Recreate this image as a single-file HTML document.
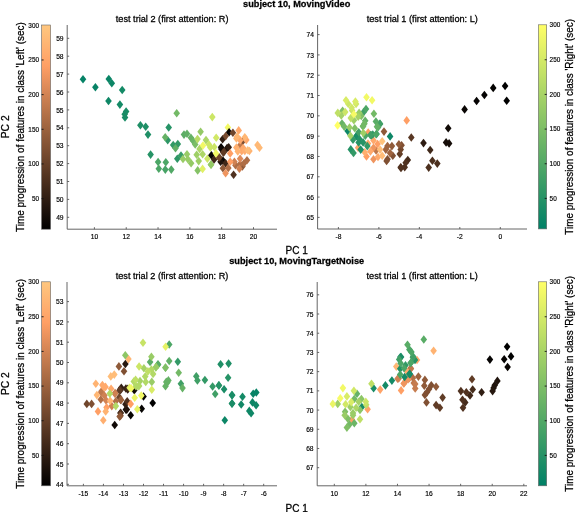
<!DOCTYPE html><html><head><meta charset="utf-8"><style>html,body{margin:0;padding:0;background:#fff;overflow:hidden}svg{display:block;will-change:transform} text{stroke:#000;stroke-width:0.28px} text.s{stroke-width:0.16px}</style></head><body><svg width="575" height="512" viewBox="0 0 575 512" font-family='"Liberation Sans", sans-serif' fill="#000">
<rect width="575" height="512" fill="#fff"/>
<text x="296.7" y="6.6" font-size="9.8" textLength="107.2" lengthAdjust="spacingAndGlyphs" font-weight="bold" text-anchor="middle">subject 10, MovingVideo</text>
<text x="296.7" y="263.5" font-size="9.8" textLength="135" lengthAdjust="spacingAndGlyphs" font-weight="bold" text-anchor="middle">subject 10, MovingTargetNoise</text>
<line x1="67.2" y1="25.0" x2="67.2" y2="229.2" stroke="#555" stroke-width="0.9"/>
<line x1="67.2" y1="229.2" x2="277.0" y2="229.2" stroke="#555" stroke-width="0.9"/>
<line x1="94.40" y1="229.2" x2="94.40" y2="227.20" stroke="#555" stroke-width="0.9"/>
<text x="94.40" y="239.10" font-size="6.7" class="s" text-anchor="middle">10</text>
<line x1="126.22" y1="229.2" x2="126.22" y2="227.20" stroke="#555" stroke-width="0.9"/>
<text x="126.22" y="239.10" font-size="6.7" class="s" text-anchor="middle">12</text>
<line x1="158.04" y1="229.2" x2="158.04" y2="227.20" stroke="#555" stroke-width="0.9"/>
<text x="158.04" y="239.10" font-size="6.7" class="s" text-anchor="middle">14</text>
<line x1="189.86" y1="229.2" x2="189.86" y2="227.20" stroke="#555" stroke-width="0.9"/>
<text x="189.86" y="239.10" font-size="6.7" class="s" text-anchor="middle">16</text>
<line x1="221.68" y1="229.2" x2="221.68" y2="227.20" stroke="#555" stroke-width="0.9"/>
<text x="221.68" y="239.10" font-size="6.7" class="s" text-anchor="middle">18</text>
<line x1="253.50" y1="229.2" x2="253.50" y2="227.20" stroke="#555" stroke-width="0.9"/>
<text x="253.50" y="239.10" font-size="6.7" class="s" text-anchor="middle">20</text>
<line x1="67.2" y1="217.30" x2="69.20" y2="217.30" stroke="#555" stroke-width="0.9"/>
<text x="63.60" y="219.90" font-size="6.7" class="s" text-anchor="end">49</text>
<line x1="67.2" y1="199.40" x2="69.20" y2="199.40" stroke="#555" stroke-width="0.9"/>
<text x="63.60" y="202.00" font-size="6.7" class="s" text-anchor="end">50</text>
<line x1="67.2" y1="181.50" x2="69.20" y2="181.50" stroke="#555" stroke-width="0.9"/>
<text x="63.60" y="184.10" font-size="6.7" class="s" text-anchor="end">51</text>
<line x1="67.2" y1="163.60" x2="69.20" y2="163.60" stroke="#555" stroke-width="0.9"/>
<text x="63.60" y="166.20" font-size="6.7" class="s" text-anchor="end">52</text>
<line x1="67.2" y1="145.70" x2="69.20" y2="145.70" stroke="#555" stroke-width="0.9"/>
<text x="63.60" y="148.30" font-size="6.7" class="s" text-anchor="end">53</text>
<line x1="67.2" y1="127.80" x2="69.20" y2="127.80" stroke="#555" stroke-width="0.9"/>
<text x="63.60" y="130.40" font-size="6.7" class="s" text-anchor="end">54</text>
<line x1="67.2" y1="109.90" x2="69.20" y2="109.90" stroke="#555" stroke-width="0.9"/>
<text x="63.60" y="112.50" font-size="6.7" class="s" text-anchor="end">55</text>
<line x1="67.2" y1="92.00" x2="69.20" y2="92.00" stroke="#555" stroke-width="0.9"/>
<text x="63.60" y="94.60" font-size="6.7" class="s" text-anchor="end">56</text>
<line x1="67.2" y1="74.10" x2="69.20" y2="74.10" stroke="#555" stroke-width="0.9"/>
<text x="63.60" y="76.70" font-size="6.7" class="s" text-anchor="end">57</text>
<line x1="67.2" y1="56.20" x2="69.20" y2="56.20" stroke="#555" stroke-width="0.9"/>
<text x="63.60" y="58.80" font-size="6.7" class="s" text-anchor="end">58</text>
<line x1="67.2" y1="38.30" x2="69.20" y2="38.30" stroke="#555" stroke-width="0.9"/>
<text x="63.60" y="40.90" font-size="6.7" class="s" text-anchor="end">59</text>
<text x="172.10" y="22.20" font-size="9.9" textLength="112.7" lengthAdjust="spacingAndGlyphs" text-anchor="middle">test trial 2 (first attention: R)</text>
<line x1="317.6" y1="25.0" x2="317.6" y2="229.0" stroke="#555" stroke-width="0.9"/>
<line x1="317.6" y1="229.0" x2="527.0" y2="229.0" stroke="#555" stroke-width="0.9"/>
<line x1="338.40" y1="229.0" x2="338.40" y2="227.00" stroke="#555" stroke-width="0.9"/>
<text x="338.40" y="238.90" font-size="6.7" class="s" text-anchor="middle">-8</text>
<line x1="378.88" y1="229.0" x2="378.88" y2="227.00" stroke="#555" stroke-width="0.9"/>
<text x="378.88" y="238.90" font-size="6.7" class="s" text-anchor="middle">-6</text>
<line x1="419.35" y1="229.0" x2="419.35" y2="227.00" stroke="#555" stroke-width="0.9"/>
<text x="419.35" y="238.90" font-size="6.7" class="s" text-anchor="middle">-4</text>
<line x1="459.82" y1="229.0" x2="459.82" y2="227.00" stroke="#555" stroke-width="0.9"/>
<text x="459.82" y="238.90" font-size="6.7" class="s" text-anchor="middle">-2</text>
<line x1="500.30" y1="229.0" x2="500.30" y2="227.00" stroke="#555" stroke-width="0.9"/>
<text x="500.30" y="238.90" font-size="6.7" class="s" text-anchor="middle">0</text>
<line x1="317.6" y1="217.40" x2="319.60" y2="217.40" stroke="#555" stroke-width="0.9"/>
<text x="314.00" y="220.00" font-size="6.7" class="s" text-anchor="end">65</text>
<line x1="317.6" y1="197.09" x2="319.60" y2="197.09" stroke="#555" stroke-width="0.9"/>
<text x="314.00" y="199.69" font-size="6.7" class="s" text-anchor="end">66</text>
<line x1="317.6" y1="176.78" x2="319.60" y2="176.78" stroke="#555" stroke-width="0.9"/>
<text x="314.00" y="179.38" font-size="6.7" class="s" text-anchor="end">67</text>
<line x1="317.6" y1="156.47" x2="319.60" y2="156.47" stroke="#555" stroke-width="0.9"/>
<text x="314.00" y="159.07" font-size="6.7" class="s" text-anchor="end">68</text>
<line x1="317.6" y1="136.16" x2="319.60" y2="136.16" stroke="#555" stroke-width="0.9"/>
<text x="314.00" y="138.76" font-size="6.7" class="s" text-anchor="end">69</text>
<line x1="317.6" y1="115.84" x2="319.60" y2="115.84" stroke="#555" stroke-width="0.9"/>
<text x="314.00" y="118.44" font-size="6.7" class="s" text-anchor="end">70</text>
<line x1="317.6" y1="95.53" x2="319.60" y2="95.53" stroke="#555" stroke-width="0.9"/>
<text x="314.00" y="98.13" font-size="6.7" class="s" text-anchor="end">71</text>
<line x1="317.6" y1="75.22" x2="319.60" y2="75.22" stroke="#555" stroke-width="0.9"/>
<text x="314.00" y="77.82" font-size="6.7" class="s" text-anchor="end">72</text>
<line x1="317.6" y1="54.91" x2="319.60" y2="54.91" stroke="#555" stroke-width="0.9"/>
<text x="314.00" y="57.51" font-size="6.7" class="s" text-anchor="end">73</text>
<line x1="317.6" y1="34.60" x2="319.60" y2="34.60" stroke="#555" stroke-width="0.9"/>
<text x="314.00" y="37.20" font-size="6.7" class="s" text-anchor="end">74</text>
<text x="422.30" y="22.20" font-size="9.9" textLength="111.2" lengthAdjust="spacingAndGlyphs" text-anchor="middle">test trial 1 (first attention: L)</text>
<line x1="67.0" y1="282.0" x2="67.0" y2="485.8" stroke="#555" stroke-width="0.9"/>
<line x1="67.0" y1="485.8" x2="277.0" y2="485.8" stroke="#555" stroke-width="0.9"/>
<line x1="83.40" y1="485.8" x2="83.40" y2="483.80" stroke="#555" stroke-width="0.9"/>
<text x="83.40" y="495.70" font-size="6.7" class="s" text-anchor="middle">-15</text>
<line x1="103.43" y1="485.8" x2="103.43" y2="483.80" stroke="#555" stroke-width="0.9"/>
<text x="103.43" y="495.70" font-size="6.7" class="s" text-anchor="middle">-14</text>
<line x1="123.47" y1="485.8" x2="123.47" y2="483.80" stroke="#555" stroke-width="0.9"/>
<text x="123.47" y="495.70" font-size="6.7" class="s" text-anchor="middle">-13</text>
<line x1="143.50" y1="485.8" x2="143.50" y2="483.80" stroke="#555" stroke-width="0.9"/>
<text x="143.50" y="495.70" font-size="6.7" class="s" text-anchor="middle">-12</text>
<line x1="163.53" y1="485.8" x2="163.53" y2="483.80" stroke="#555" stroke-width="0.9"/>
<text x="163.53" y="495.70" font-size="6.7" class="s" text-anchor="middle">-11</text>
<line x1="183.57" y1="485.8" x2="183.57" y2="483.80" stroke="#555" stroke-width="0.9"/>
<text x="183.57" y="495.70" font-size="6.7" class="s" text-anchor="middle">-10</text>
<line x1="203.60" y1="485.8" x2="203.60" y2="483.80" stroke="#555" stroke-width="0.9"/>
<text x="203.60" y="495.70" font-size="6.7" class="s" text-anchor="middle">-9</text>
<line x1="223.63" y1="485.8" x2="223.63" y2="483.80" stroke="#555" stroke-width="0.9"/>
<text x="223.63" y="495.70" font-size="6.7" class="s" text-anchor="middle">-8</text>
<line x1="243.67" y1="485.8" x2="243.67" y2="483.80" stroke="#555" stroke-width="0.9"/>
<text x="243.67" y="495.70" font-size="6.7" class="s" text-anchor="middle">-7</text>
<line x1="263.70" y1="485.8" x2="263.70" y2="483.80" stroke="#555" stroke-width="0.9"/>
<text x="263.70" y="495.70" font-size="6.7" class="s" text-anchor="middle">-6</text>
<line x1="67.0" y1="484.30" x2="69.00" y2="484.30" stroke="#555" stroke-width="0.9"/>
<text x="63.40" y="486.90" font-size="6.7" class="s" text-anchor="end">44</text>
<line x1="67.0" y1="464.00" x2="69.00" y2="464.00" stroke="#555" stroke-width="0.9"/>
<text x="63.40" y="466.60" font-size="6.7" class="s" text-anchor="end">45</text>
<line x1="67.0" y1="443.70" x2="69.00" y2="443.70" stroke="#555" stroke-width="0.9"/>
<text x="63.40" y="446.30" font-size="6.7" class="s" text-anchor="end">46</text>
<line x1="67.0" y1="423.40" x2="69.00" y2="423.40" stroke="#555" stroke-width="0.9"/>
<text x="63.40" y="426.00" font-size="6.7" class="s" text-anchor="end">47</text>
<line x1="67.0" y1="403.10" x2="69.00" y2="403.10" stroke="#555" stroke-width="0.9"/>
<text x="63.40" y="405.70" font-size="6.7" class="s" text-anchor="end">48</text>
<line x1="67.0" y1="382.80" x2="69.00" y2="382.80" stroke="#555" stroke-width="0.9"/>
<text x="63.40" y="385.40" font-size="6.7" class="s" text-anchor="end">49</text>
<line x1="67.0" y1="362.50" x2="69.00" y2="362.50" stroke="#555" stroke-width="0.9"/>
<text x="63.40" y="365.10" font-size="6.7" class="s" text-anchor="end">50</text>
<line x1="67.0" y1="342.20" x2="69.00" y2="342.20" stroke="#555" stroke-width="0.9"/>
<text x="63.40" y="344.80" font-size="6.7" class="s" text-anchor="end">51</text>
<line x1="67.0" y1="321.90" x2="69.00" y2="321.90" stroke="#555" stroke-width="0.9"/>
<text x="63.40" y="324.50" font-size="6.7" class="s" text-anchor="end">52</text>
<line x1="67.0" y1="301.60" x2="69.00" y2="301.60" stroke="#555" stroke-width="0.9"/>
<text x="63.40" y="304.20" font-size="6.7" class="s" text-anchor="end">53</text>
<text x="172.00" y="279.20" font-size="9.9" textLength="112.7" lengthAdjust="spacingAndGlyphs" text-anchor="middle">test trial 2 (first attention: R)</text>
<line x1="317.2" y1="282.0" x2="317.2" y2="485.8" stroke="#555" stroke-width="0.9"/>
<line x1="317.2" y1="485.8" x2="527.0" y2="485.8" stroke="#555" stroke-width="0.9"/>
<line x1="334.30" y1="485.8" x2="334.30" y2="483.80" stroke="#555" stroke-width="0.9"/>
<text x="334.30" y="495.70" font-size="6.7" class="s" text-anchor="middle">10</text>
<line x1="365.88" y1="485.8" x2="365.88" y2="483.80" stroke="#555" stroke-width="0.9"/>
<text x="365.88" y="495.70" font-size="6.7" class="s" text-anchor="middle">12</text>
<line x1="397.47" y1="485.8" x2="397.47" y2="483.80" stroke="#555" stroke-width="0.9"/>
<text x="397.47" y="495.70" font-size="6.7" class="s" text-anchor="middle">14</text>
<line x1="429.05" y1="485.8" x2="429.05" y2="483.80" stroke="#555" stroke-width="0.9"/>
<text x="429.05" y="495.70" font-size="6.7" class="s" text-anchor="middle">16</text>
<line x1="460.63" y1="485.8" x2="460.63" y2="483.80" stroke="#555" stroke-width="0.9"/>
<text x="460.63" y="495.70" font-size="6.7" class="s" text-anchor="middle">18</text>
<line x1="492.22" y1="485.8" x2="492.22" y2="483.80" stroke="#555" stroke-width="0.9"/>
<text x="492.22" y="495.70" font-size="6.7" class="s" text-anchor="middle">20</text>
<line x1="523.80" y1="485.8" x2="523.80" y2="483.80" stroke="#555" stroke-width="0.9"/>
<text x="523.80" y="495.70" font-size="6.7" class="s" text-anchor="middle">22</text>
<line x1="317.2" y1="467.70" x2="319.20" y2="467.70" stroke="#555" stroke-width="0.9"/>
<text x="313.60" y="470.30" font-size="6.7" class="s" text-anchor="end">67</text>
<line x1="317.2" y1="448.49" x2="319.20" y2="448.49" stroke="#555" stroke-width="0.9"/>
<text x="313.60" y="451.09" font-size="6.7" class="s" text-anchor="end">68</text>
<line x1="317.2" y1="429.28" x2="319.20" y2="429.28" stroke="#555" stroke-width="0.9"/>
<text x="313.60" y="431.88" font-size="6.7" class="s" text-anchor="end">69</text>
<line x1="317.2" y1="410.07" x2="319.20" y2="410.07" stroke="#555" stroke-width="0.9"/>
<text x="313.60" y="412.67" font-size="6.7" class="s" text-anchor="end">70</text>
<line x1="317.2" y1="390.86" x2="319.20" y2="390.86" stroke="#555" stroke-width="0.9"/>
<text x="313.60" y="393.46" font-size="6.7" class="s" text-anchor="end">71</text>
<line x1="317.2" y1="371.64" x2="319.20" y2="371.64" stroke="#555" stroke-width="0.9"/>
<text x="313.60" y="374.24" font-size="6.7" class="s" text-anchor="end">72</text>
<line x1="317.2" y1="352.43" x2="319.20" y2="352.43" stroke="#555" stroke-width="0.9"/>
<text x="313.60" y="355.03" font-size="6.7" class="s" text-anchor="end">73</text>
<line x1="317.2" y1="333.22" x2="319.20" y2="333.22" stroke="#555" stroke-width="0.9"/>
<text x="313.60" y="335.82" font-size="6.7" class="s" text-anchor="end">74</text>
<line x1="317.2" y1="314.01" x2="319.20" y2="314.01" stroke="#555" stroke-width="0.9"/>
<text x="313.60" y="316.61" font-size="6.7" class="s" text-anchor="end">75</text>
<line x1="317.2" y1="294.80" x2="319.20" y2="294.80" stroke="#555" stroke-width="0.9"/>
<text x="313.60" y="297.40" font-size="6.7" class="s" text-anchor="end">76</text>
<text x="422.10" y="279.20" font-size="9.9" textLength="111.2" lengthAdjust="spacingAndGlyphs" text-anchor="middle">test trial 1 (first attention: L)</text>
<defs><linearGradient id="gL1" x1="0" y1="0" x2="0" y2="1"><stop offset="0.00" stop-color="#ffc77f"/><stop offset="0.10" stop-color="#ffb372"/><stop offset="0.20" stop-color="#ff9f65"/><stop offset="0.30" stop-color="#df8b59"/><stop offset="0.40" stop-color="#bf784c"/><stop offset="0.50" stop-color="#9f643f"/><stop offset="0.60" stop-color="#805033"/><stop offset="0.70" stop-color="#603c26"/><stop offset="0.80" stop-color="#402819"/><stop offset="0.90" stop-color="#20140d"/><stop offset="1.00" stop-color="#000000"/></linearGradient></defs>
<rect x="41.6" y="25.0" width="9.0" height="204.2" fill="url(#gL1)" stroke="#666" stroke-width="0.6"/>
<line x1="41.6" y1="198.60" x2="43.6" y2="198.60" stroke="#111" stroke-width="0.9"/>
<text x="39.00" y="200.95" font-size="6.4" class="s" text-anchor="end">50</text>
<line x1="41.6" y1="163.94" x2="43.6" y2="163.94" stroke="#111" stroke-width="0.9"/>
<text x="39.00" y="166.29" font-size="6.4" class="s" text-anchor="end">100</text>
<line x1="41.6" y1="129.28" x2="43.6" y2="129.28" stroke="#111" stroke-width="0.9"/>
<text x="39.00" y="131.63" font-size="6.4" class="s" text-anchor="end">150</text>
<line x1="41.6" y1="94.62" x2="43.6" y2="94.62" stroke="#111" stroke-width="0.9"/>
<text x="39.00" y="96.97" font-size="6.4" class="s" text-anchor="end">200</text>
<line x1="41.6" y1="59.96" x2="43.6" y2="59.96" stroke="#111" stroke-width="0.9"/>
<text x="39.00" y="62.31" font-size="6.4" class="s" text-anchor="end">250</text>
<text x="39.00" y="27.65" font-size="6.4" class="s" text-anchor="end">300</text>
<text transform="translate(24.0,127.10) rotate(-90)" font-size="10.8" textLength="209.7" lengthAdjust="spacingAndGlyphs" text-anchor="middle">Time progression of features in class 'Left' (sec)</text>
<defs><linearGradient id="gR1" x1="0" y1="0" x2="0" y2="1"><stop offset="0.00" stop-color="#ffff66"/><stop offset="0.10" stop-color="#e6f266"/><stop offset="0.20" stop-color="#cce666"/><stop offset="0.30" stop-color="#b2d966"/><stop offset="0.40" stop-color="#99cc66"/><stop offset="0.50" stop-color="#80bf66"/><stop offset="0.60" stop-color="#66b266"/><stop offset="0.70" stop-color="#4da666"/><stop offset="0.80" stop-color="#339966"/><stop offset="0.90" stop-color="#198c66"/><stop offset="1.00" stop-color="#008066"/></linearGradient></defs>
<rect x="538.4" y="24.8" width="8.300000000000068" height="204.1" fill="url(#gR1)" stroke="#666" stroke-width="0.6"/>
<line x1="546.7" y1="198.40" x2="544.7" y2="198.40" stroke="#111" stroke-width="0.9"/>
<text x="549.60" y="200.75" font-size="6.4" class="s" text-anchor="start">50</text>
<line x1="546.7" y1="163.74" x2="544.7" y2="163.74" stroke="#111" stroke-width="0.9"/>
<text x="549.60" y="166.09" font-size="6.4" class="s" text-anchor="start">100</text>
<line x1="546.7" y1="129.08" x2="544.7" y2="129.08" stroke="#111" stroke-width="0.9"/>
<text x="549.60" y="131.43" font-size="6.4" class="s" text-anchor="start">150</text>
<line x1="546.7" y1="94.42" x2="544.7" y2="94.42" stroke="#111" stroke-width="0.9"/>
<text x="549.60" y="96.77" font-size="6.4" class="s" text-anchor="start">200</text>
<line x1="546.7" y1="59.76" x2="544.7" y2="59.76" stroke="#111" stroke-width="0.9"/>
<text x="549.60" y="62.11" font-size="6.4" class="s" text-anchor="start">250</text>
<text x="549.60" y="27.45" font-size="6.4" class="s" text-anchor="start">300</text>
<text transform="translate(573.3,126.85) rotate(-90)" font-size="10.8" textLength="215.8" lengthAdjust="spacingAndGlyphs" text-anchor="middle">Time progression of features in class 'Right' (sec)</text>
<defs><linearGradient id="gL2" x1="0" y1="0" x2="0" y2="1"><stop offset="0.00" stop-color="#ffc77f"/><stop offset="0.10" stop-color="#ffb372"/><stop offset="0.20" stop-color="#ff9f65"/><stop offset="0.30" stop-color="#df8b59"/><stop offset="0.40" stop-color="#bf784c"/><stop offset="0.50" stop-color="#9f643f"/><stop offset="0.60" stop-color="#805033"/><stop offset="0.70" stop-color="#603c26"/><stop offset="0.80" stop-color="#402819"/><stop offset="0.90" stop-color="#20140d"/><stop offset="1.00" stop-color="#000000"/></linearGradient></defs>
<rect x="41.6" y="281.8" width="9.0" height="204.0" fill="url(#gL2)" stroke="#666" stroke-width="0.6"/>
<line x1="41.6" y1="455.40" x2="43.6" y2="455.40" stroke="#111" stroke-width="0.9"/>
<text x="39.00" y="457.75" font-size="6.4" class="s" text-anchor="end">50</text>
<line x1="41.6" y1="420.74" x2="43.6" y2="420.74" stroke="#111" stroke-width="0.9"/>
<text x="39.00" y="423.09" font-size="6.4" class="s" text-anchor="end">100</text>
<line x1="41.6" y1="386.08" x2="43.6" y2="386.08" stroke="#111" stroke-width="0.9"/>
<text x="39.00" y="388.43" font-size="6.4" class="s" text-anchor="end">150</text>
<line x1="41.6" y1="351.42" x2="43.6" y2="351.42" stroke="#111" stroke-width="0.9"/>
<text x="39.00" y="353.77" font-size="6.4" class="s" text-anchor="end">200</text>
<line x1="41.6" y1="316.76" x2="43.6" y2="316.76" stroke="#111" stroke-width="0.9"/>
<text x="39.00" y="319.11" font-size="6.4" class="s" text-anchor="end">250</text>
<text x="39.00" y="284.45" font-size="6.4" class="s" text-anchor="end">300</text>
<text transform="translate(24.0,383.80) rotate(-90)" font-size="10.8" textLength="209.7" lengthAdjust="spacingAndGlyphs" text-anchor="middle">Time progression of features in class 'Left' (sec)</text>
<defs><linearGradient id="gR2" x1="0" y1="0" x2="0" y2="1"><stop offset="0.00" stop-color="#ffff66"/><stop offset="0.10" stop-color="#e6f266"/><stop offset="0.20" stop-color="#cce666"/><stop offset="0.30" stop-color="#b2d966"/><stop offset="0.40" stop-color="#99cc66"/><stop offset="0.50" stop-color="#80bf66"/><stop offset="0.60" stop-color="#66b266"/><stop offset="0.70" stop-color="#4da666"/><stop offset="0.80" stop-color="#339966"/><stop offset="0.90" stop-color="#198c66"/><stop offset="1.00" stop-color="#008066"/></linearGradient></defs>
<rect x="538.4" y="281.8" width="8.300000000000068" height="204.0" fill="url(#gR2)" stroke="#666" stroke-width="0.6"/>
<line x1="546.7" y1="455.40" x2="544.7" y2="455.40" stroke="#111" stroke-width="0.9"/>
<text x="549.60" y="457.75" font-size="6.4" class="s" text-anchor="start">50</text>
<line x1="546.7" y1="420.74" x2="544.7" y2="420.74" stroke="#111" stroke-width="0.9"/>
<text x="549.60" y="423.09" font-size="6.4" class="s" text-anchor="start">100</text>
<line x1="546.7" y1="386.08" x2="544.7" y2="386.08" stroke="#111" stroke-width="0.9"/>
<text x="549.60" y="388.43" font-size="6.4" class="s" text-anchor="start">150</text>
<line x1="546.7" y1="351.42" x2="544.7" y2="351.42" stroke="#111" stroke-width="0.9"/>
<text x="549.60" y="353.77" font-size="6.4" class="s" text-anchor="start">200</text>
<line x1="546.7" y1="316.76" x2="544.7" y2="316.76" stroke="#111" stroke-width="0.9"/>
<text x="549.60" y="319.11" font-size="6.4" class="s" text-anchor="start">250</text>
<text x="549.60" y="284.45" font-size="6.4" class="s" text-anchor="start">300</text>
<text transform="translate(573.3,383.80) rotate(-90)" font-size="10.8" textLength="215.8" lengthAdjust="spacingAndGlyphs" text-anchor="middle">Time progression of features in class 'Right' (sec)</text>
<polygon points="79.70,79.30 83.00,75.00 86.30,79.30 83.00,83.60" fill="#058266"/>
<polygon points="92.10,87.30 95.40,83.00 98.70,87.30 95.40,91.60" fill="#088366"/>
<polygon points="105.50,79.00 108.80,74.70 112.10,79.00 108.80,83.30" fill="#0a8566"/>
<polygon points="108.50,83.20 111.80,78.90 115.10,83.20 111.80,87.50" fill="#0d8666"/>
<polygon points="105.20,101.00 108.50,96.70 111.80,101.00 108.50,105.30" fill="#0f8766"/>
<polygon points="118.90,90.00 122.20,85.70 125.50,90.00 122.20,94.30" fill="#148a66"/>
<polygon points="116.60,104.60 119.90,100.30 123.20,104.60 119.90,108.90" fill="#148a66"/>
<polygon points="122.80,111.50 126.10,107.20 129.40,111.50 126.10,115.80" fill="#1a8c66"/>
<polygon points="121.40,114.30 124.70,110.00 128.00,114.30 124.70,118.60" fill="#1a8c66"/>
<polygon points="121.70,117.50 125.00,113.20 128.30,117.50 125.00,121.80" fill="#1a8c66"/>
<polygon points="137.10,125.20 140.40,120.90 143.70,125.20 140.40,129.50" fill="#1f8f66"/>
<polygon points="142.40,126.70 145.70,122.40 149.00,126.70 145.70,131.00" fill="#1f8f66"/>
<polygon points="144.70,134.60 148.00,130.30 151.30,134.60 148.00,138.90" fill="#1f8f66"/>
<polygon points="165.40,127.50 168.70,123.20 172.00,127.50 168.70,131.80" fill="#269366"/>
<polygon points="147.30,154.60 150.60,150.30 153.90,154.60 150.60,158.90" fill="#269366"/>
<polygon points="164.40,140.30 167.70,136.00 171.00,140.30 167.70,144.60" fill="#2e9666"/>
<polygon points="174.00,158.80 177.30,154.50 180.60,158.80 177.30,163.10" fill="#2e9666"/>
<polygon points="169.90,145.00 173.20,140.70 176.50,145.00 173.20,149.30" fill="#339966"/>
<polygon points="174.50,144.10 177.80,139.80 181.10,144.10 177.80,148.40" fill="#339966"/>
<polygon points="177.70,155.60 181.00,151.30 184.30,155.60 181.00,159.90" fill="#389c66"/>
<polygon points="162.00,169.60 165.30,165.30 168.60,169.60 165.30,173.90" fill="#47a366"/>
<polygon points="154.80,162.00 158.10,157.70 161.40,162.00 158.10,166.30" fill="#4ca666"/>
<polygon points="162.50,162.20 165.80,157.90 169.10,162.20 165.80,166.50" fill="#4ca666"/>
<polygon points="155.50,168.80 158.80,164.50 162.10,168.80 158.80,173.10" fill="#4ca666"/>
<polygon points="168.00,169.60 171.30,165.30 174.60,169.60 171.30,173.90" fill="#52a866"/>
<polygon points="180.70,134.60 184.00,130.30 187.30,134.60 184.00,138.90" fill="#5cad66"/>
<polygon points="172.20,148.30 175.50,144.00 178.80,148.30 175.50,152.60" fill="#61b066"/>
<polygon points="183.70,133.80 187.00,129.50 190.30,133.80 187.00,138.10" fill="#61b066"/>
<polygon points="161.90,137.30 165.20,133.00 168.50,137.30 165.20,141.60" fill="#66b266"/>
<polygon points="187.60,137.70 190.90,133.40 194.20,137.70 190.90,142.00" fill="#66b266"/>
<polygon points="190.00,141.10 193.30,136.80 196.60,141.10 193.30,145.40" fill="#6bb566"/>
<polygon points="173.40,113.20 176.70,108.90 180.00,113.20 176.70,117.50" fill="#73b966"/>
<polygon points="191.90,144.50 195.20,140.20 198.50,144.50 195.20,148.80" fill="#7abd66"/>
<polygon points="194.40,170.40 197.70,166.10 201.00,170.40 197.70,174.70" fill="#85c266"/>
<polygon points="207.80,164.80 211.10,160.50 214.40,164.80 211.10,169.10" fill="#8cc666"/>
<polygon points="197.30,131.80 200.60,127.50 203.90,131.80 200.60,136.10" fill="#94c966"/>
<polygon points="207.60,164.50 210.90,160.20 214.20,164.50 210.90,168.80" fill="#94c966"/>
<polygon points="187.80,163.20 191.10,158.90 194.40,163.20 191.10,167.50" fill="#94c966"/>
<polygon points="179.70,159.00 183.00,154.70 186.30,159.00 183.00,163.30" fill="#99cc66"/>
<polygon points="183.70,154.30 187.00,150.00 190.30,154.30 187.00,158.60" fill="#99cc66"/>
<polygon points="184.60,159.30 187.90,155.00 191.20,159.30 187.90,163.60" fill="#99cc66"/>
<polygon points="193.40,154.80 196.70,150.50 200.00,154.80 196.70,159.10" fill="#9ecf66"/>
<polygon points="195.40,161.10 198.70,156.80 202.00,161.10 198.70,165.40" fill="#9ecf66"/>
<polygon points="202.70,140.10 206.00,135.80 209.30,140.10 206.00,144.40" fill="#add666"/>
<polygon points="196.30,148.90 199.60,144.60 202.90,148.90 199.60,153.20" fill="#add666"/>
<polygon points="199.30,154.30 202.60,150.00 205.90,154.30 202.60,158.60" fill="#add666"/>
<polygon points="194.20,139.10 197.50,134.80 200.80,139.10 197.50,143.40" fill="#b8db66"/>
<polygon points="205.60,144.50 208.90,140.20 212.20,144.50 208.90,148.80" fill="#cce666"/>
<polygon points="207.10,147.40 210.40,143.10 213.70,147.40 210.40,151.70" fill="#cce666"/>
<polygon points="211.00,147.00 214.30,142.70 217.60,147.00 214.30,151.30" fill="#cce666"/>
<polygon points="204.10,158.70 207.40,154.40 210.70,158.70 207.40,163.00" fill="#cce666"/>
<polygon points="209.00,117.10 212.30,112.80 215.60,117.10 212.30,121.40" fill="#cce666"/>
<polygon points="212.90,137.70 216.20,133.40 219.50,137.70 216.20,142.00" fill="#d1e866"/>
<polygon points="199.30,168.90 202.60,164.60 205.90,168.90 202.60,173.20" fill="#e0f066"/>
<polygon points="199.70,145.50 203.00,141.20 206.30,145.50 203.00,149.80" fill="#f2f966"/>
<polygon points="224.60,127.50 227.90,123.20 231.20,127.50 227.90,131.80" fill="#f2f966"/>
<polygon points="225.80,132.30 229.10,128.00 232.40,132.30 229.10,136.60" fill="#060403"/>
<polygon points="217.80,147.20 221.10,142.90 224.40,147.20 221.10,151.50" fill="#060403"/>
<polygon points="208.10,155.30 211.40,151.00 214.70,155.30 211.40,159.60" fill="#060403"/>
<polygon points="219.60,160.60 222.90,156.30 226.20,160.60 222.90,164.90" fill="#0a0604"/>
<polygon points="218.10,149.10 221.40,144.80 224.70,149.10 221.40,153.40" fill="#100a06"/>
<polygon points="217.30,161.80 220.60,157.50 223.90,161.80 220.60,166.10" fill="#20140d"/>
<polygon points="223.80,148.00 227.10,143.70 230.40,148.00 227.10,152.30" fill="#20140d"/>
<polygon points="219.30,139.20 222.60,134.90 225.90,139.20 222.60,143.50" fill="#301e13"/>
<polygon points="225.40,147.20 228.70,142.90 232.00,147.20 228.70,151.50" fill="#301e13"/>
<polygon points="210.80,159.50 214.10,155.20 217.40,159.50 214.10,163.80" fill="#402819"/>
<polygon points="222.30,163.30 225.60,159.00 228.90,163.30 225.60,167.60" fill="#402819"/>
<polygon points="230.30,174.80 233.60,170.50 236.90,174.80 233.60,179.10" fill="#503220"/>
<polygon points="220.80,151.70 224.10,147.40 227.40,151.70 224.10,156.00" fill="#503220"/>
<polygon points="220.00,152.60 223.30,148.30 226.60,152.60 223.30,156.90" fill="#603c26"/>
<polygon points="216.10,157.50 219.40,153.20 222.70,157.50 219.40,161.80" fill="#603c26"/>
<polygon points="229.60,132.70 232.90,128.40 236.20,132.70 232.90,137.00" fill="#70462c"/>
<polygon points="215.40,157.20 218.70,152.90 222.00,157.20 218.70,161.50" fill="#70462c"/>
<polygon points="222.40,136.10 225.70,131.80 229.00,136.10 225.70,140.40" fill="#794c30"/>
<polygon points="239.20,141.40 242.50,137.10 245.80,141.40 242.50,145.70" fill="#805033"/>
<polygon points="219.60,168.30 222.90,164.00 226.20,168.30 222.90,172.60" fill="#8f5a39"/>
<polygon points="239.10,166.40 242.40,162.10 245.70,166.40 242.40,170.70" fill="#8f5a39"/>
<polygon points="225.00,167.90 228.30,163.60 231.60,167.90 228.30,172.20" fill="#af6e46"/>
<polygon points="240.70,163.30 244.00,159.00 247.30,163.30 244.00,167.60" fill="#af6e46"/>
<polygon points="243.70,160.20 247.00,155.90 250.30,160.20 247.00,164.50" fill="#af6e46"/>
<polygon points="232.20,165.20 235.50,160.90 238.80,165.20 235.50,169.50" fill="#af6e46"/>
<polygon points="236.80,164.10 240.10,159.80 243.40,164.10 240.10,168.40" fill="#af6e46"/>
<polygon points="236.90,145.30 240.20,141.00 243.50,145.30 240.20,149.60" fill="#bf784c"/>
<polygon points="231.10,161.80 234.40,157.50 237.70,161.80 234.40,166.10" fill="#cf8152"/>
<polygon points="236.10,168.70 239.40,164.40 242.70,168.70 239.40,173.00" fill="#cf8152"/>
<polygon points="236.80,158.70 240.10,154.40 243.40,158.70 240.10,163.00" fill="#df8b59"/>
<polygon points="222.30,173.20 225.60,168.90 228.90,173.20 225.60,177.50" fill="#ef955f"/>
<polygon points="226.90,153.40 230.20,149.10 233.50,153.40 230.20,157.70" fill="#ff9f65"/>
<polygon points="226.90,161.80 230.20,157.50 233.50,161.80 230.20,166.10" fill="#ff9f65"/>
<polygon points="235.40,130.40 238.70,126.10 242.00,130.40 238.70,134.70" fill="#ffa96c"/>
<polygon points="236.90,140.30 240.20,136.00 243.50,140.30 240.20,144.60" fill="#ffa96c"/>
<polygon points="243.00,139.90 246.30,135.60 249.60,139.90 246.30,144.20" fill="#ffa96c"/>
<polygon points="239.90,148.00 243.20,143.70 246.50,148.00 243.20,152.30" fill="#ffa96c"/>
<polygon points="238.40,151.10 241.70,146.80 245.00,151.10 241.70,155.40" fill="#ffa96c"/>
<polygon points="233.10,147.60 236.40,143.30 239.70,147.60 236.40,151.90" fill="#ffaf70"/>
<polygon points="241.50,151.00 244.80,146.70 248.10,151.00 244.80,155.30" fill="#ffaf70"/>
<polygon points="233.10,138.40 236.40,134.10 239.70,138.40 236.40,142.70" fill="#ffb372"/>
<polygon points="246.10,151.00 249.40,146.70 252.70,151.00 249.40,155.30" fill="#ffb372"/>
<polygon points="234.50,151.40 237.80,147.10 241.10,151.40 237.80,155.70" fill="#ffb372"/>
<polygon points="233.80,136.50 237.10,132.20 240.40,136.50 237.10,140.80" fill="#ffb775"/>
<polygon points="241.50,137.20 244.80,132.90 248.10,137.20 244.80,141.50" fill="#ffb775"/>
<polygon points="254.20,145.00 257.50,140.70 260.80,145.00 257.50,149.30" fill="#ffb976"/>
<polygon points="256.20,147.80 259.50,143.50 262.80,147.80 259.50,152.10" fill="#ffb976"/>
<polygon points="244.50,150.30 247.80,146.00 251.10,150.30 247.80,154.60" fill="#ffbd79"/>
<polygon points="212.70,153.40 216.00,149.10 219.30,153.40 216.00,157.70" fill="#f2f966"/>
<polygon points="501.80,86.00 505.10,81.70 508.40,86.00 505.10,90.30" fill="#000000"/>
<polygon points="503.40,100.80 506.70,96.50 510.00,100.80 506.70,105.10" fill="#000000"/>
<polygon points="489.90,87.90 493.20,83.60 496.50,87.90 493.20,92.20" fill="#030201"/>
<polygon points="473.30,101.00 476.60,96.70 479.90,101.00 476.60,105.30" fill="#060403"/>
<polygon points="481.10,95.00 484.40,90.70 487.70,95.00 484.40,99.30" fill="#060403"/>
<polygon points="461.30,109.40 464.60,105.10 467.90,109.40 464.60,113.70" fill="#0a0604"/>
<polygon points="444.90,128.20 448.20,123.90 451.50,128.20 448.20,132.50" fill="#100a06"/>
<polygon points="442.80,142.40 446.10,138.10 449.40,142.40 446.10,146.70" fill="#160e09"/>
<polygon points="445.80,143.40 449.10,139.10 452.40,143.40 449.10,147.70" fill="#160e09"/>
<polygon points="420.20,143.10 423.50,138.80 426.80,143.10 423.50,147.40" fill="#2d1c12"/>
<polygon points="426.90,150.00 430.20,145.70 433.50,150.00 430.20,154.30" fill="#402819"/>
<polygon points="404.50,160.00 407.80,155.70 411.10,160.00 407.80,164.30" fill="#462c1c"/>
<polygon points="429.10,160.70 432.40,156.40 435.70,160.70 432.40,165.00" fill="#4c301e"/>
<polygon points="434.00,163.60 437.30,159.30 440.60,163.60 437.30,167.90" fill="#4c301e"/>
<polygon points="425.40,167.60 428.70,163.30 432.00,167.60 428.70,171.90" fill="#4c301e"/>
<polygon points="397.40,167.20 400.70,162.90 404.00,167.20 400.70,171.50" fill="#503220"/>
<polygon points="401.40,167.30 404.70,163.00 408.00,167.30 404.70,171.60" fill="#503220"/>
<polygon points="402.40,162.70 405.70,158.40 409.00,162.70 405.70,167.00" fill="#503220"/>
<polygon points="397.70,167.90 401.00,163.60 404.30,167.90 401.00,172.20" fill="#503220"/>
<polygon points="408.00,137.50 411.30,133.20 414.60,137.50 411.30,141.80" fill="#593824"/>
<polygon points="396.50,154.00 399.80,149.70 403.10,154.00 399.80,158.30" fill="#603c26"/>
<polygon points="397.40,149.60 400.70,145.30 404.00,149.60 400.70,153.90" fill="#70462c"/>
<polygon points="389.50,155.80 392.80,151.50 396.10,155.80 392.80,160.10" fill="#805033"/>
<polygon points="384.20,159.30 387.50,155.00 390.80,159.30 387.50,163.60" fill="#805033"/>
<polygon points="383.30,161.00 386.60,156.70 389.90,161.00 386.60,165.30" fill="#805033"/>
<polygon points="398.30,145.20 401.60,140.90 404.90,145.20 401.60,149.50" fill="#805033"/>
<polygon points="380.70,131.60 384.00,127.30 387.30,131.60 384.00,135.90" fill="#8f5a39"/>
<polygon points="388.60,146.10 391.90,141.80 395.20,146.10 391.90,150.40" fill="#8f5a39"/>
<polygon points="395.60,144.30 398.90,140.00 402.20,144.30 398.90,148.60" fill="#8f5a39"/>
<polygon points="384.20,146.10 387.50,141.80 390.80,146.10 387.50,150.40" fill="#9f643f"/>
<polygon points="382.50,149.60 385.80,145.30 389.10,149.60 385.80,153.90" fill="#9f643f"/>
<polygon points="386.80,153.10 390.10,148.80 393.40,153.10 390.10,157.40" fill="#9f643f"/>
<polygon points="372.80,150.50 376.10,146.20 379.40,150.50 376.10,154.80" fill="#bf784c"/>
<polygon points="370.20,147.80 373.50,143.50 376.80,147.80 373.50,152.10" fill="#ef955f"/>
<polygon points="370.20,159.30 373.50,155.00 376.80,159.30 373.50,163.60" fill="#ef955f"/>
<polygon points="364.90,132.50 368.20,128.20 371.50,132.50 368.20,136.80" fill="#ff9f65"/>
<polygon points="403.40,120.40 406.70,116.10 410.00,120.40 406.70,124.70" fill="#ff9f65"/>
<polygon points="374.30,144.00 377.60,139.70 380.90,144.00 377.60,148.30" fill="#ff9f65"/>
<polygon points="363.20,156.50 366.50,152.20 369.80,156.50 366.50,160.80" fill="#ff9f65"/>
<polygon points="370.20,140.40 373.50,136.10 376.80,140.40 373.50,144.70" fill="#ffa96c"/>
<polygon points="354.80,147.80 358.10,143.50 361.40,147.80 358.10,152.10" fill="#ffa96c"/>
<polygon points="367.10,151.40 370.40,147.10 373.70,151.40 370.40,155.70" fill="#ffa96c"/>
<polygon points="364.70,143.50 368.00,139.20 371.30,143.50 368.00,147.80" fill="#ffa96c"/>
<polygon points="374.70,157.00 378.00,152.70 381.30,157.00 378.00,161.30" fill="#ffa96c"/>
<polygon points="361.40,152.20 364.70,147.90 368.00,152.20 364.70,156.50" fill="#ffaf70"/>
<polygon points="376.70,149.60 380.00,145.30 383.30,149.60 380.00,153.90" fill="#ffbd79"/>
<polygon points="378.90,155.80 382.20,151.50 385.50,155.80 382.20,160.10" fill="#ffbd79"/>
<polygon points="378.90,141.30 382.20,137.00 385.50,141.30 382.20,145.60" fill="#ffc37c"/>
<polygon points="344.40,131.00 347.70,126.70 351.00,131.00 347.70,135.30" fill="#0d8666"/>
<polygon points="386.80,136.40 390.10,132.10 393.40,136.40 390.10,140.70" fill="#0d8666"/>
<polygon points="353.20,136.30 356.50,132.00 359.80,136.30 356.50,140.60" fill="#1a8c66"/>
<polygon points="353.50,135.50 356.80,131.20 360.10,135.50 356.80,139.80" fill="#1a8c66"/>
<polygon points="357.40,149.60 360.70,145.30 364.00,149.60 360.70,153.90" fill="#1f8f66"/>
<polygon points="356.30,139.30 359.60,135.00 362.90,139.30 359.60,143.60" fill="#269366"/>
<polygon points="359.80,142.40 363.10,138.10 366.40,142.40 363.10,146.70" fill="#269366"/>
<polygon points="355.40,142.40 358.70,138.10 362.00,142.40 358.70,146.70" fill="#269366"/>
<polygon points="368.00,135.30 371.30,131.00 374.60,135.30 371.30,139.60" fill="#269366"/>
<polygon points="347.50,149.40 350.80,145.10 354.10,149.40 350.80,153.70" fill="#269366"/>
<polygon points="376.50,123.70 379.80,119.40 383.10,123.70 379.80,128.00" fill="#339966"/>
<polygon points="349.70,139.80 353.00,135.50 356.30,139.80 353.00,144.10" fill="#339966"/>
<polygon points="369.50,134.50 372.80,130.20 376.10,134.50 372.80,138.80" fill="#339966"/>
<polygon points="373.30,134.00 376.60,129.70 379.90,134.00 376.60,138.30" fill="#339966"/>
<polygon points="350.20,153.00 353.50,148.70 356.80,153.00 353.50,157.30" fill="#339966"/>
<polygon points="364.00,146.10 367.30,141.80 370.60,146.10 367.30,150.40" fill="#339966"/>
<polygon points="360.10,112.40 363.40,108.10 366.70,112.40 363.40,116.70" fill="#409f66"/>
<polygon points="355.40,132.30 358.70,128.00 362.00,132.30 358.70,136.60" fill="#409f66"/>
<polygon points="367.10,135.10 370.40,130.80 373.70,135.10 370.40,139.40" fill="#409f66"/>
<polygon points="376.80,123.90 380.10,119.60 383.40,123.90 380.10,128.20" fill="#409f66"/>
<polygon points="362.70,109.00 366.00,104.70 369.30,109.00 366.00,113.30" fill="#4ca666"/>
<polygon points="362.00,135.80 365.30,131.50 368.60,135.80 365.30,140.10" fill="#4ca666"/>
<polygon points="372.80,134.20 376.10,129.90 379.40,134.20 376.10,138.50" fill="#4ca666"/>
<polygon points="372.60,121.50 375.90,117.20 379.20,121.50 375.90,125.80" fill="#59ac66"/>
<polygon points="374.80,127.20 378.10,122.90 381.40,127.20 378.10,131.50" fill="#59ac66"/>
<polygon points="361.90,120.70 365.20,116.40 368.50,120.70 365.20,125.00" fill="#66b266"/>
<polygon points="359.80,126.30 363.10,122.00 366.40,126.30 363.10,130.60" fill="#66b266"/>
<polygon points="338.70,123.50 342.00,119.20 345.30,123.50 342.00,127.80" fill="#66b266"/>
<polygon points="373.70,126.80 377.00,122.50 380.30,126.80 377.00,131.10" fill="#66b266"/>
<polygon points="370.60,113.70 373.90,109.40 377.20,113.70 373.90,118.00" fill="#73b966"/>
<polygon points="361.10,123.70 364.40,119.40 367.70,123.70 364.40,128.00" fill="#73b966"/>
<polygon points="340.90,126.60 344.20,122.30 347.50,126.60 344.20,130.90" fill="#73b966"/>
<polygon points="359.60,126.30 362.90,122.00 366.20,126.30 362.90,130.60" fill="#73b966"/>
<polygon points="339.30,110.70 342.60,106.40 345.90,110.70 342.60,115.00" fill="#80bf66"/>
<polygon points="358.00,115.90 361.30,111.60 364.60,115.90 361.30,120.20" fill="#80bf66"/>
<polygon points="351.50,128.30 354.80,124.00 358.10,128.30 354.80,132.60" fill="#80bf66"/>
<polygon points="355.80,112.90 359.10,108.60 362.40,112.90 359.10,117.20" fill="#99cc66"/>
<polygon points="346.20,127.50 349.50,123.20 352.80,127.50 349.50,131.80" fill="#99cc66"/>
<polygon points="350.60,120.20 353.90,115.90 357.20,120.20 353.90,124.50" fill="#9ecf66"/>
<polygon points="360.00,132.90 363.30,128.60 366.60,132.90 363.30,137.20" fill="#9ecf66"/>
<polygon points="338.00,115.50 341.30,111.20 344.60,115.50 341.30,119.80" fill="#a6d266"/>
<polygon points="354.90,116.80 358.20,112.50 361.50,116.80 358.20,121.10" fill="#a6d266"/>
<polygon points="347.10,135.80 350.40,131.50 353.70,135.80 350.40,140.10" fill="#a6d266"/>
<polygon points="334.50,112.90 337.80,108.60 341.10,112.90 337.80,117.20" fill="#bfdf66"/>
<polygon points="347.50,118.10 350.80,113.80 354.10,118.10 350.80,122.40" fill="#bfdf66"/>
<polygon points="348.80,110.50 352.10,106.20 355.40,110.50 352.10,114.80" fill="#c7e366"/>
<polygon points="344.90,103.70 348.20,99.40 351.50,103.70 348.20,108.00" fill="#cce666"/>
<polygon points="341.90,112.00 345.20,107.70 348.50,112.00 345.20,116.30" fill="#cce666"/>
<polygon points="352.80,103.90 356.10,99.60 359.40,103.90 356.10,108.20" fill="#d1e866"/>
<polygon points="348.40,107.70 351.70,103.40 355.00,107.70 351.70,112.00" fill="#d1e866"/>
<polygon points="342.70,100.30 346.00,96.00 349.30,100.30 346.00,104.60" fill="#d9ec66"/>
<polygon points="352.10,101.60 355.40,97.30 358.70,101.60 355.40,105.90" fill="#d9ec66"/>
<polygon points="363.20,97.20 366.50,92.90 369.80,97.20 366.50,101.50" fill="#f2f966"/>
<polygon points="368.80,100.30 372.10,96.00 375.40,100.30 372.10,104.60" fill="#f2f966"/>
<polygon points="350.60,114.20 353.90,109.90 357.20,114.20 353.90,118.50" fill="#f7fb66"/>
<polygon points="334.30,125.40 337.60,121.10 340.90,125.40 337.60,129.70" fill="#ffff66"/>
<polygon points="149.40,403.00 152.70,398.70 156.00,403.00 152.70,407.30" fill="#000000"/>
<polygon points="140.20,396.50 143.50,392.20 146.80,396.50 143.50,400.80" fill="#060403"/>
<polygon points="138.40,408.80 141.70,404.50 145.00,408.80 141.70,413.10" fill="#060403"/>
<polygon points="127.40,415.30 130.70,411.00 134.00,415.30 130.70,419.60" fill="#060403"/>
<polygon points="122.60,409.60 125.90,405.30 129.20,409.60 125.90,413.90" fill="#100a06"/>
<polygon points="111.40,425.00 114.70,420.70 118.00,425.00 114.70,429.30" fill="#100a06"/>
<polygon points="131.00,390.30 134.30,386.00 137.60,390.30 134.30,394.60" fill="#100a06"/>
<polygon points="123.50,409.60 126.80,405.30 130.10,409.60 126.80,413.90" fill="#20140d"/>
<polygon points="122.10,364.00 125.40,359.70 128.70,364.00 125.40,368.30" fill="#26180f"/>
<polygon points="118.00,387.80 121.30,383.50 124.60,387.80 121.30,392.10" fill="#301e13"/>
<polygon points="122.20,404.30 125.50,400.00 128.80,404.30 125.50,408.60" fill="#301e13"/>
<polygon points="117.30,412.70 120.60,408.40 123.90,412.70 120.60,417.00" fill="#301e13"/>
<polygon points="124.40,389.40 127.70,385.10 131.00,389.40 127.70,393.70" fill="#301e13"/>
<polygon points="122.60,388.50 125.90,384.20 129.20,388.50 125.90,392.80" fill="#392417"/>
<polygon points="124.60,388.70 127.90,384.40 131.20,388.70 127.90,393.00" fill="#402819"/>
<polygon points="117.30,389.90 120.60,385.60 123.90,389.90 120.60,394.20" fill="#402819"/>
<polygon points="116.90,389.50 120.20,385.20 123.50,389.50 120.20,393.80" fill="#462c1c"/>
<polygon points="123.90,401.30 127.20,397.00 130.50,401.30 127.20,405.60" fill="#503220"/>
<polygon points="117.30,413.20 120.60,408.90 123.90,413.20 120.60,417.50" fill="#503220"/>
<polygon points="116.20,390.40 119.50,386.10 122.80,390.40 119.50,394.70" fill="#603c26"/>
<polygon points="83.50,403.90 86.80,399.60 90.10,403.90 86.80,408.20" fill="#70462c"/>
<polygon points="116.00,397.30 119.30,393.00 122.60,397.30 119.30,401.60" fill="#70462c"/>
<polygon points="120.70,371.20 124.00,366.90 127.30,371.20 124.00,375.50" fill="#805033"/>
<polygon points="88.30,403.90 91.60,399.60 94.90,403.90 91.60,408.20" fill="#805033"/>
<polygon points="117.30,415.80 120.60,411.50 123.90,415.80 120.60,420.10" fill="#805033"/>
<polygon points="115.60,366.40 118.90,362.10 122.20,366.40 118.90,370.70" fill="#8f5a39"/>
<polygon points="116.40,416.60 119.70,412.30 123.00,416.60 119.70,420.90" fill="#8f5a39"/>
<polygon points="117.30,400.00 120.60,395.70 123.90,400.00 120.60,404.30" fill="#8f5a39"/>
<polygon points="117.80,399.90 121.10,395.60 124.40,399.90 121.10,404.20" fill="#9f643f"/>
<polygon points="97.50,399.50 100.80,395.20 104.10,399.50 100.80,403.80" fill="#af6e46"/>
<polygon points="112.50,401.30 115.80,397.00 119.10,401.30 115.80,405.60" fill="#af6e46"/>
<polygon points="111.80,393.10 115.10,388.80 118.40,393.10 115.10,397.40" fill="#bf784c"/>
<polygon points="98.20,391.30 101.50,387.00 104.80,391.30 101.50,395.60" fill="#bf784c"/>
<polygon points="98.00,392.50 101.30,388.20 104.60,392.50 101.30,396.80" fill="#bf784c"/>
<polygon points="101.10,395.50 104.40,391.20 107.70,395.50 104.40,399.80" fill="#cf8152"/>
<polygon points="111.60,393.80 114.90,389.50 118.20,393.80 114.90,398.10" fill="#cf8152"/>
<polygon points="108.50,406.10 111.80,401.80 115.10,406.10 111.80,410.40" fill="#cf8152"/>
<polygon points="102.80,400.40 106.10,396.10 109.40,400.40 106.10,404.70" fill="#d28354"/>
<polygon points="103.30,407.40 106.60,403.10 109.90,407.40 106.60,411.70" fill="#ff9f65"/>
<polygon points="94.70,411.40 98.00,407.10 101.30,411.40 98.00,415.70" fill="#ff9f65"/>
<polygon points="127.40,403.90 130.70,399.60 134.00,403.90 130.70,408.20" fill="#ff9f65"/>
<polygon points="99.10,385.10 102.40,380.80 105.70,385.10 102.40,389.40" fill="#ffa96c"/>
<polygon points="102.20,386.90 105.50,382.60 108.80,386.90 105.50,391.20" fill="#ffa96c"/>
<polygon points="107.80,388.80 111.10,384.50 114.40,388.80 111.10,393.10" fill="#ffa96c"/>
<polygon points="100.60,387.20 103.90,382.90 107.20,387.20 103.90,391.50" fill="#ffa96c"/>
<polygon points="100.00,420.20 103.30,415.90 106.60,420.20 103.30,424.50" fill="#ffaf70"/>
<polygon points="92.50,383.80 95.80,379.50 99.10,383.80 95.80,388.10" fill="#ffb372"/>
<polygon points="106.80,400.80 110.10,396.50 113.40,400.80 110.10,405.10" fill="#ffb372"/>
<polygon points="102.40,411.40 105.70,407.10 109.00,411.40 105.70,415.70" fill="#ffb372"/>
<polygon points="125.10,359.10 128.40,354.80 131.70,359.10 128.40,363.40" fill="#ffb775"/>
<polygon points="93.60,395.10 96.90,390.80 100.20,395.10 96.90,399.40" fill="#ffb775"/>
<polygon points="107.50,376.40 110.80,372.10 114.10,376.40 110.80,380.70" fill="#ffbd79"/>
<polygon points="111.00,374.60 114.30,370.30 117.60,374.60 114.30,378.90" fill="#ffbd79"/>
<polygon points="249.90,393.70 253.20,389.40 256.50,393.70 253.20,398.00" fill="#088366"/>
<polygon points="253.00,392.50 256.30,388.20 259.60,392.50 256.30,396.80" fill="#088366"/>
<polygon points="249.20,402.40 252.50,398.10 255.80,402.40 252.50,406.70" fill="#0d8666"/>
<polygon points="221.50,420.20 224.80,415.90 228.10,420.20 224.80,424.50" fill="#0d8666"/>
<polygon points="252.80,405.30 256.10,401.00 259.40,405.30 256.10,409.60" fill="#0f8766"/>
<polygon points="246.00,410.90 249.30,406.60 252.60,410.90 249.30,415.20" fill="#0f8766"/>
<polygon points="247.80,413.30 251.10,409.00 254.40,413.30 251.10,417.60" fill="#0f8766"/>
<polygon points="237.90,404.50 241.20,400.20 244.50,404.50 241.20,408.80" fill="#128866"/>
<polygon points="239.20,396.70 242.50,392.40 245.80,396.70 242.50,401.00" fill="#148a66"/>
<polygon points="220.80,389.20 224.10,384.90 227.40,389.20 224.10,393.50" fill="#1a8c66"/>
<polygon points="228.90,395.20 232.20,390.90 235.50,395.20 232.20,399.50" fill="#1a8c66"/>
<polygon points="228.90,403.50 232.20,399.20 235.50,403.50 232.20,407.80" fill="#1a8c66"/>
<polygon points="228.60,395.10 231.90,390.80 235.20,395.10 231.90,399.40" fill="#1a8c66"/>
<polygon points="228.60,403.60 231.90,399.30 235.20,403.60 231.90,407.90" fill="#1a8c66"/>
<polygon points="217.30,364.20 220.60,359.90 223.90,364.20 220.60,368.50" fill="#1f8f66"/>
<polygon points="225.30,363.60 228.60,359.30 231.90,363.60 228.60,367.90" fill="#1f8f66"/>
<polygon points="215.50,385.40 218.80,381.10 222.10,385.40 218.80,389.70" fill="#269366"/>
<polygon points="224.80,377.80 228.10,373.50 231.40,377.80 228.10,382.10" fill="#269366"/>
<polygon points="215.70,385.40 219.00,381.10 222.30,385.40 219.00,389.70" fill="#269366"/>
<polygon points="174.50,361.70 177.80,357.40 181.10,361.70 177.80,366.00" fill="#339966"/>
<polygon points="201.60,380.00 204.90,375.70 208.20,380.00 204.90,384.30" fill="#339966"/>
<polygon points="209.30,386.50 212.60,382.20 215.90,386.50 212.60,390.80" fill="#339966"/>
<polygon points="177.60,383.70 180.90,379.40 184.20,383.70 180.90,388.00" fill="#409f66"/>
<polygon points="193.00,376.20 196.30,371.90 199.60,376.20 196.30,380.50" fill="#409f66"/>
<polygon points="194.10,380.50 197.40,376.20 200.70,380.50 197.40,384.80" fill="#409f66"/>
<polygon points="211.90,394.00 215.20,389.70 218.50,394.00 215.20,398.30" fill="#409f66"/>
<polygon points="165.90,344.50 169.20,340.20 172.50,344.50 169.20,348.80" fill="#4ca666"/>
<polygon points="146.80,362.00 150.10,357.70 153.40,362.00 150.10,366.30" fill="#59ac66"/>
<polygon points="154.70,364.80 158.00,360.50 161.30,364.80 158.00,369.10" fill="#59ac66"/>
<polygon points="154.70,364.30 158.00,360.00 161.30,364.30 158.00,368.60" fill="#59ac66"/>
<polygon points="165.90,361.00 169.20,356.70 172.50,361.00 169.20,365.30" fill="#61b066"/>
<polygon points="163.00,381.90 166.30,377.60 169.60,381.90 166.30,386.20" fill="#66b266"/>
<polygon points="162.20,386.30 165.50,382.00 168.80,386.30 165.50,390.60" fill="#66b266"/>
<polygon points="165.10,380.40 168.40,376.10 171.70,380.40 168.40,384.70" fill="#66b266"/>
<polygon points="164.00,382.60 167.30,378.30 170.60,382.60 167.30,386.90" fill="#66b266"/>
<polygon points="179.20,388.10 182.50,383.80 185.80,388.10 182.50,392.40" fill="#66b266"/>
<polygon points="162.20,367.80 165.50,363.50 168.80,367.80 165.50,372.10" fill="#73b966"/>
<polygon points="175.40,372.70 178.70,368.40 182.00,372.70 178.70,377.00" fill="#73b966"/>
<polygon points="162.20,367.60 165.50,363.30 168.80,367.60 165.50,371.90" fill="#80bf66"/>
<polygon points="122.00,355.20 125.30,350.90 128.60,355.20 125.30,359.50" fill="#8cc666"/>
<polygon points="148.10,356.80 151.40,352.50 154.70,356.80 151.40,361.10" fill="#99cc66"/>
<polygon points="152.50,367.40 155.80,363.10 159.10,367.40 155.80,371.70" fill="#99cc66"/>
<polygon points="148.50,381.90 151.80,377.60 155.10,381.90 151.80,386.20" fill="#99cc66"/>
<polygon points="152.80,367.00 156.10,362.70 159.40,367.00 156.10,371.30" fill="#99cc66"/>
<polygon points="140.60,368.30 143.90,364.00 147.20,368.30 143.90,372.60" fill="#a6d266"/>
<polygon points="136.70,381.00 140.00,376.70 143.30,381.00 140.00,385.30" fill="#a6d266"/>
<polygon points="106.50,393.60 109.80,389.30 113.10,393.60 109.80,397.90" fill="#b2d966"/>
<polygon points="112.50,406.10 115.80,401.80 119.10,406.10 115.80,410.40" fill="#b2d966"/>
<polygon points="149.80,374.00 153.10,369.70 156.40,374.00 153.10,378.30" fill="#b2d966"/>
<polygon points="148.10,369.60 151.40,365.30 154.70,369.60 151.40,373.90" fill="#b2d966"/>
<polygon points="141.90,376.60 145.20,372.30 148.50,376.60 145.20,380.90" fill="#b2d966"/>
<polygon points="142.40,381.90 145.70,377.60 149.00,381.90 145.70,386.20" fill="#b2d966"/>
<polygon points="134.90,386.30 138.20,382.00 141.50,386.30 138.20,390.60" fill="#b2d966"/>
<polygon points="130.50,381.50 133.80,377.20 137.10,381.50 133.80,385.80" fill="#b2d966"/>
<polygon points="135.80,385.90 139.10,381.60 142.40,385.90 139.10,390.20" fill="#b2d966"/>
<polygon points="132.70,386.30 136.00,382.00 139.30,386.30 136.00,390.60" fill="#b2d966"/>
<polygon points="144.60,371.40 147.90,367.10 151.20,371.40 147.90,375.70" fill="#bfdf66"/>
<polygon points="132.30,379.70 135.60,375.40 138.90,379.70 135.60,384.00" fill="#bfdf66"/>
<polygon points="139.70,342.70 143.00,338.40 146.30,342.70 143.00,347.00" fill="#c7e366"/>
<polygon points="135.80,366.50 139.10,362.20 142.40,366.50 139.10,370.80" fill="#cce666"/>
<polygon points="148.50,389.80 151.80,385.50 155.10,389.80 151.80,394.10" fill="#d9ec66"/>
<polygon points="126.30,387.80 129.60,383.50 132.90,387.80 129.60,392.10" fill="#e6f266"/>
<polygon points="134.00,409.20 137.30,404.90 140.60,409.20 137.30,413.50" fill="#e6f266"/>
<polygon points="162.30,346.70 165.60,342.40 168.90,346.70 165.60,351.00" fill="#e6f266"/>
<polygon points="131.40,397.80 134.70,393.50 138.00,397.80 134.70,402.10" fill="#ebf566"/>
<polygon points="127.90,388.30 131.20,384.00 134.50,388.30 131.20,392.60" fill="#f2f966"/>
<polygon points="138.00,395.60 141.30,391.30 144.60,395.60 141.30,399.90" fill="#f2f966"/>
<polygon points="503.80,346.70 507.10,342.40 510.40,346.70 507.10,351.00" fill="#000000"/>
<polygon points="507.70,356.40 511.00,352.10 514.30,356.40 511.00,360.70" fill="#000000"/>
<polygon points="486.60,359.60 489.90,355.30 493.20,359.60 489.90,363.90" fill="#060403"/>
<polygon points="500.90,359.20 504.20,354.90 507.50,359.20 504.20,363.50" fill="#060403"/>
<polygon points="504.30,367.00 507.60,362.70 510.90,367.00 507.60,371.30" fill="#0a0604"/>
<polygon points="494.10,380.90 497.40,376.60 500.70,380.90 497.40,385.20" fill="#20140d"/>
<polygon points="491.40,385.20 494.70,380.90 498.00,385.20 494.70,389.50" fill="#20140d"/>
<polygon points="490.30,387.90 493.60,383.60 496.90,387.90 493.60,392.20" fill="#20140d"/>
<polygon points="489.30,391.10 492.60,386.80 495.90,391.10 492.60,395.40" fill="#26180f"/>
<polygon points="478.30,392.20 481.60,387.90 484.90,392.20 481.60,396.50" fill="#301e13"/>
<polygon points="466.70,395.40 470.00,391.10 473.30,395.40 470.00,399.70" fill="#402819"/>
<polygon points="469.40,389.50 472.70,385.20 476.00,389.50 472.70,393.80" fill="#462c1c"/>
<polygon points="461.90,402.40 465.20,398.10 468.50,402.40 465.20,406.70" fill="#462c1c"/>
<polygon points="457.60,391.10 460.90,386.80 464.20,391.10 460.90,395.40" fill="#503220"/>
<polygon points="463.00,392.20 466.30,387.90 469.60,392.20 466.30,396.50" fill="#503220"/>
<polygon points="459.20,399.70 462.50,395.40 465.80,399.70 462.50,404.00" fill="#503220"/>
<polygon points="459.70,407.80 463.00,403.50 466.30,407.80 463.00,412.10" fill="#503220"/>
<polygon points="439.30,397.60 442.60,393.30 445.90,397.60 442.60,401.90" fill="#603c26"/>
<polygon points="432.80,405.10 436.10,400.80 439.40,405.10 436.10,409.40" fill="#603c26"/>
<polygon points="436.60,407.80 439.90,403.50 443.20,407.80 439.90,412.10" fill="#603c26"/>
<polygon points="468.70,379.30 472.00,375.00 475.30,379.30 472.00,383.60" fill="#603c26"/>
<polygon points="428.00,385.20 431.30,380.90 434.60,385.20 431.30,389.50" fill="#805033"/>
<polygon points="425.80,389.00 429.10,384.70 432.40,389.00 429.10,393.30" fill="#805033"/>
<polygon points="423.70,392.20 427.00,387.90 430.30,392.20 427.00,396.50" fill="#805033"/>
<polygon points="421.60,394.90 424.90,390.60 428.20,394.90 424.90,399.20" fill="#805033"/>
<polygon points="423.20,402.40 426.50,398.10 429.80,402.40 426.50,406.70" fill="#805033"/>
<polygon points="421.60,379.90 424.90,375.60 428.20,379.90 424.90,384.20" fill="#8f5a39"/>
<polygon points="421.00,385.80 424.30,381.50 427.60,385.80 424.30,390.10" fill="#8f5a39"/>
<polygon points="432.80,386.80 436.10,382.50 439.40,386.80 436.10,391.10" fill="#8f5a39"/>
<polygon points="415.10,376.60 418.40,372.30 421.70,376.60 418.40,380.90" fill="#9f643f"/>
<polygon points="409.60,378.00 412.90,373.70 416.20,378.00 412.90,382.30" fill="#af6e46"/>
<polygon points="407.30,368.30 410.60,364.00 413.90,368.30 410.60,372.60" fill="#af6e46"/>
<polygon points="407.60,368.70 410.90,364.40 414.20,368.70 410.90,373.00" fill="#bf784c"/>
<polygon points="406.10,378.00 409.40,373.70 412.70,378.00 409.40,382.30" fill="#bf784c"/>
<polygon points="410.50,382.90 413.80,378.60 417.10,382.90 413.80,387.20" fill="#bf784c"/>
<polygon points="411.90,384.10 415.20,379.80 418.50,384.10 415.20,388.40" fill="#c67c4f"/>
<polygon points="411.90,388.40 415.20,384.10 418.50,388.40 415.20,392.70" fill="#c67c4f"/>
<polygon points="395.40,378.50 398.70,374.20 402.00,378.50 398.70,382.80" fill="#cf8152"/>
<polygon points="394.30,378.70 397.60,374.40 400.90,378.70 397.60,383.00" fill="#cf8152"/>
<polygon points="402.70,380.40 406.00,376.10 409.30,380.40 406.00,384.70" fill="#df8b59"/>
<polygon points="400.80,383.30 404.10,379.00 407.40,383.30 404.10,387.60" fill="#ef955f"/>
<polygon points="400.40,383.50 403.70,379.20 407.00,383.50 403.70,387.80" fill="#ef955f"/>
<polygon points="404.90,379.30 408.20,375.00 411.50,379.30 408.20,383.60" fill="#ef955f"/>
<polygon points="348.60,419.60 351.90,415.30 355.20,419.60 351.90,423.90" fill="#ff9f65"/>
<polygon points="397.80,390.40 401.10,386.10 404.40,390.40 401.10,394.70" fill="#ff9f65"/>
<polygon points="364.30,409.30 367.60,405.00 370.90,409.30 367.60,413.60" fill="#ffa368"/>
<polygon points="376.90,389.60 380.20,385.30 383.50,389.60 380.20,393.90" fill="#ffa368"/>
<polygon points="403.70,371.60 407.00,367.30 410.30,371.60 407.00,375.90" fill="#ffa96c"/>
<polygon points="413.70,360.00 417.00,355.70 420.30,360.00 417.00,364.30" fill="#ffa96c"/>
<polygon points="430.30,350.80 433.60,346.50 436.90,350.80 433.60,355.10" fill="#ffb372"/>
<polygon points="393.00,366.60 396.30,362.30 399.60,366.60 396.30,370.90" fill="#ffb775"/>
<polygon points="406.60,374.10 409.90,369.80 413.20,374.10 409.90,378.40" fill="#0d8666"/>
<polygon points="401.30,377.00 404.60,372.70 407.90,377.00 404.60,381.30" fill="#148a66"/>
<polygon points="388.60,380.60 391.90,376.30 395.20,380.60 391.90,384.90" fill="#148a66"/>
<polygon points="382.10,385.40 385.40,381.10 388.70,385.40 385.40,389.70" fill="#148a66"/>
<polygon points="358.50,407.00 361.80,402.70 365.10,407.00 361.80,411.30" fill="#1a8c66"/>
<polygon points="370.30,388.30 373.60,384.00 376.90,388.30 373.60,392.60" fill="#1a8c66"/>
<polygon points="397.80,357.00 401.10,352.70 404.40,357.00 401.10,361.30" fill="#1a8c66"/>
<polygon points="397.10,357.10 400.40,352.80 403.70,357.10 400.40,361.40" fill="#1a8c66"/>
<polygon points="406.00,374.00 409.30,369.70 412.60,374.00 409.30,378.30" fill="#1a8c66"/>
<polygon points="396.90,368.70 400.20,364.40 403.50,368.70 400.20,373.00" fill="#1f8f66"/>
<polygon points="411.70,360.00 415.00,355.70 418.30,360.00 415.00,364.30" fill="#269366"/>
<polygon points="402.20,365.30 405.50,361.00 408.80,365.30 405.50,369.60" fill="#339966"/>
<polygon points="409.60,357.50 412.90,353.20 416.20,357.50 412.90,361.80" fill="#409f66"/>
<polygon points="395.90,359.40 399.20,355.10 402.50,359.40 399.20,363.70" fill="#409f66"/>
<polygon points="409.80,356.60 413.10,352.30 416.40,356.60 413.10,360.90" fill="#409f66"/>
<polygon points="406.10,349.60 409.40,345.30 412.70,349.60 409.40,353.90" fill="#4ca666"/>
<polygon points="408.10,352.10 411.40,347.80 414.70,352.10 411.40,356.40" fill="#4ca666"/>
<polygon points="407.60,362.80 410.90,358.50 414.20,362.80 410.90,367.10" fill="#4ca666"/>
<polygon points="397.30,363.30 400.60,359.00 403.90,363.30 400.60,367.60" fill="#4ca666"/>
<polygon points="400.80,368.20 404.10,363.90 407.40,368.20 404.10,372.50" fill="#4ca666"/>
<polygon points="396.90,374.60 400.20,370.30 403.50,374.60 400.20,378.90" fill="#4ca666"/>
<polygon points="407.30,363.00 410.60,358.70 413.90,363.00 410.60,367.30" fill="#4ca666"/>
<polygon points="404.20,344.80 407.50,340.50 410.80,344.80 407.50,349.10" fill="#59ac66"/>
<polygon points="420.50,339.50 423.80,335.20 427.10,339.50 423.80,343.80" fill="#59ac66"/>
<polygon points="353.70,393.80 357.00,389.50 360.30,393.80 357.00,398.10" fill="#66b266"/>
<polygon points="351.00,423.20 354.30,418.90 357.60,423.20 354.30,427.50" fill="#6bb566"/>
<polygon points="351.00,399.00 354.30,394.70 357.60,399.00 354.30,403.30" fill="#73b966"/>
<polygon points="346.20,424.50 349.50,420.20 352.80,424.50 349.50,428.80" fill="#73b966"/>
<polygon points="341.80,411.80 345.10,407.50 348.40,411.80 345.10,416.10" fill="#80bf66"/>
<polygon points="344.50,418.80 347.80,414.50 351.10,418.80 347.80,423.10" fill="#80bf66"/>
<polygon points="343.60,427.60 346.90,423.30 350.20,427.60 346.90,431.90" fill="#80bf66"/>
<polygon points="358.10,399.00 361.40,394.70 364.70,399.00 361.40,403.30" fill="#8cc666"/>
<polygon points="356.70,410.00 360.00,405.70 363.30,410.00 360.00,414.30" fill="#8cc666"/>
<polygon points="341.40,415.30 344.70,411.00 348.00,415.30 344.70,419.60" fill="#99cc66"/>
<polygon points="349.70,413.10 353.00,408.80 356.30,413.10 353.00,417.40" fill="#99cc66"/>
<polygon points="349.70,415.30 353.00,411.00 356.30,415.30 353.00,419.60" fill="#99cc66"/>
<polygon points="334.40,403.90 337.70,399.60 341.00,403.90 337.70,408.20" fill="#9ecf66"/>
<polygon points="347.10,407.00 350.40,402.70 353.70,407.00 350.40,411.30" fill="#9ecf66"/>
<polygon points="355.40,401.70 358.70,397.40 362.00,401.70 358.70,406.00" fill="#a6d266"/>
<polygon points="352.80,407.80 356.10,403.50 359.40,407.80 356.10,412.10" fill="#add666"/>
<polygon points="362.90,404.80 366.20,400.50 369.50,404.80 366.20,409.10" fill="#bfdf66"/>
<polygon points="356.70,419.20 360.00,414.90 363.30,419.20 360.00,423.50" fill="#bfdf66"/>
<polygon points="368.20,383.70 371.50,379.40 374.80,383.70 371.50,388.00" fill="#bfdf66"/>
<polygon points="362.50,401.70 365.80,397.40 369.10,401.70 365.80,406.00" fill="#cce666"/>
<polygon points="350.60,390.70 353.90,386.40 357.20,390.70 353.90,395.00" fill="#d1e866"/>
<polygon points="342.30,404.30 345.60,400.00 348.90,404.30 345.60,408.60" fill="#d1e866"/>
<polygon points="343.60,396.40 346.90,392.10 350.20,396.40 346.90,400.70" fill="#d9ec66"/>
<polygon points="348.00,402.10 351.30,397.80 354.60,402.10 351.30,406.40" fill="#d9ec66"/>
<polygon points="329.50,403.90 332.80,399.60 336.10,403.90 332.80,408.20" fill="#ebf566"/>
<polygon points="339.60,388.10 342.90,383.80 346.20,388.10 342.90,392.40" fill="#f2f966"/>
<polygon points="337.00,398.20 340.30,393.90 343.60,398.20 340.30,402.50" fill="#f7fb66"/>
<text x="296.6" y="254.4" font-size="10" text-anchor="middle">PC 1</text>
<text x="296.6" y="512.0" font-size="10" text-anchor="middle">PC 1</text>
<text transform="translate(8.7,126.8) rotate(-90)" font-size="10.3" text-anchor="middle">PC 2</text>
<text transform="translate(8.7,383.6) rotate(-90)" font-size="10.3" text-anchor="middle">PC 2</text>
</svg></body></html>
